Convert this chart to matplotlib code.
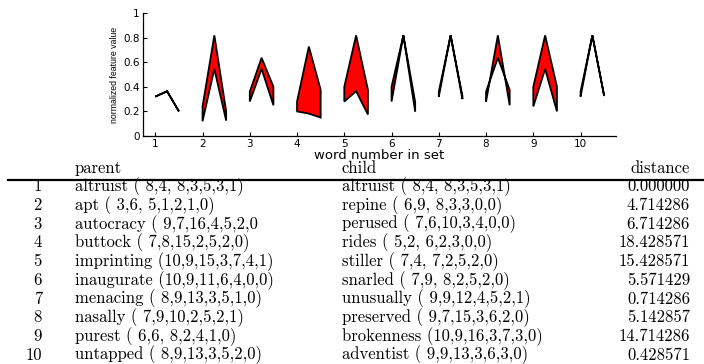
import matplotlib
matplotlib.use("Agg")
import matplotlib.pyplot as plt
import numpy as np

# normalized feature values (3 features per word)
parent_vals = [
    [0.32, 0.364, 0.200],
    [0.12, 0.545, 0.125],
    [0.36, 0.636, 0.400],
    [0.28, 0.727, 0.375],
    [0.40, 0.818, 0.375],
    [0.40, 0.818, 0.275],
    [0.32, 0.818, 0.325],
    [0.28, 0.818, 0.250],
    [0.24, 0.545, 0.200],
    [0.32, 0.818, 0.325],
]
child_vals = [
    [0.32, 0.364, 0.200],
    [0.24, 0.818, 0.200],
    [0.28, 0.545, 0.250],
    [0.20, 0.182, 0.150],
    [0.28, 0.364, 0.175],
    [0.28, 0.818, 0.200],
    [0.36, 0.818, 0.300],
    [0.36, 0.636, 0.375],
    [0.40, 0.818, 0.400],
    [0.36, 0.818, 0.325],
]
words = np.arange(1, 11)
feat_offsets = np.array([0.0, 0.25, 0.5])

# table below the plot
parents = [
    "altruist ( 8,4, 8,3,5,3,1)",
    "apt ( 3,6, 5,1,2,1,0)",
    "autocracy ( 9,7,16,4,5,2,0",
    "buttock ( 7,8,15,2,5,2,0)",
    "imprinting (10,9,15,3,7,4,1)",
    "inaugurate (10,9,11,6,4,0,0)",
    "menacing ( 8,9,13,3,5,1,0)",
    "nasally ( 7,9,10,2,5,2,1)",
    "purest ( 6,6, 8,2,4,1,0)",
    "untapped ( 8,9,13,3,5,2,0)",
]
children = [
    "altruist ( 8,4, 8,3,5,3,1)",
    "repine ( 6,9, 8,3,3,0,0)",
    "perused ( 7,6,10,3,4,0,0)",
    "rides ( 5,2, 6,2,3,0,0)",
    "stiller ( 7,4, 7,2,5,2,0)",
    "snarled ( 7,9, 8,2,5,2,0)",
    "unusually ( 9,9,12,4,5,2,1)",
    "preserved ( 9,7,15,3,6,2,0)",
    "brokenness (10,9,16,3,7,3,0)",
    "adventist ( 9,9,13,3,6,3,0)",
]
distances = [0.000000, 4.714286, 6.714286, 18.428571, 15.428571,
             5.571429, 0.714286, 5.142857, 14.714286, 0.428571]

W, H = 704, 364
fig = plt.figure(figsize=(W / 100, H / 100), dpi=100)

# --- plot ---
ax = fig.add_axes([143 / W, 1 - 136 / H, (616 - 143) / W, (136 - 13) / H])
for w, pv, cv in zip(words, parent_vals, child_vals):
    xs = w + feat_offsets
    px = np.concatenate([xs, xs[::-1]])
    py = np.concatenate([pv, cv[::-1]])
    ax.fill(px, py, facecolor="red", edgecolor="black", linewidth=1.3,
            joinstyle="miter")

ax.set_xlim(0.74, 10.75)
ax.set_ylim(0, 1)
ax.set_xticks(words)
ax.set_yticks([0, 0.2, 0.4, 0.6, 0.8, 1])
ax.set_yticklabels(["0", "0.2", "0.4", "0.6", "0.8", "1"])
for s in ["top", "right"]:
    ax.spines[s].set_visible(False)
for s in ["left", "bottom"]:
    ax.spines[s].set_linewidth(0.9)
ax.tick_params(direction="in", length=3, width=0.8, labelsize=7.5, pad=2.5)
for lab in ax.get_xticklabels() + ax.get_yticklabels():
    lab.set_family("DejaVu Sans")
ax.set_xlabel("word number in set", family="DejaVu Sans", fontsize=9.5,
              labelpad=-0.5)
ax.set_ylabel("normalized feature value", family="Liberation Sans",
              fontsize=6.3, labelpad=3)


# --- table ---
def px_text(x, y, s, ha="left"):
    fig.text(x / W, 1 - y / H, s, ha=ha, va="center", family="cmr10",
             fontsize=12)


row_y0 = 168
row_dy = 18.7
px_text(75, row_y0, "parent")
px_text(342, row_y0, "child")
px_text(690, row_y0, "distance", ha="right")
fig.add_artist(plt.Line2D([8 / W, 1.0], [1 - 179.5 / H] * 2, color="black",
                          linewidth=1.6))

for i, (p, c, d) in enumerate(zip(parents, children, distances)):
    y = row_y0 + row_dy * (i + 1)
    px_text(42, y, str(i + 1), ha="right")
    px_text(75, y, p)
    px_text(342, y, c)
    px_text(690, y, "%.6f" % d, ha="right")

fig.savefig("out.png", dpi=100)
